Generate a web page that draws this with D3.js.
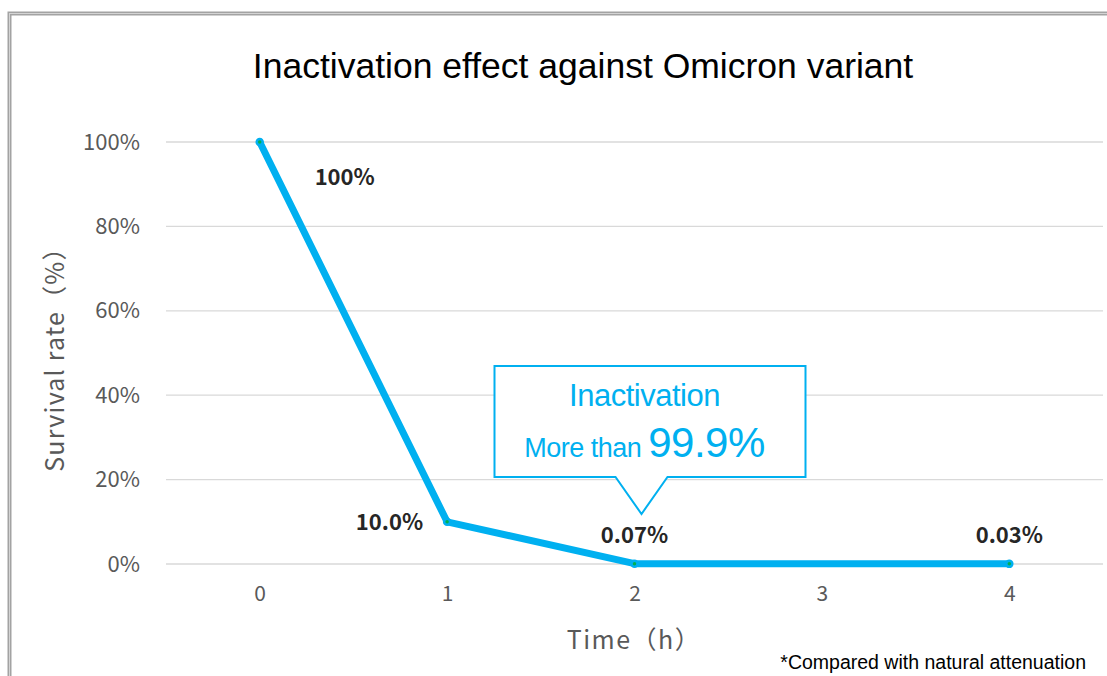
<!DOCTYPE html>
<html>
<head>
<meta charset="utf-8">
<script src="https://cdn.jsdelivr.net/npm/d3@7"></script>
<style>
    body { margin: 0; background: #fff; }
    svg { display: block; }
</style>
</head>
<body>
<div id="chart"></div>
<script>
// chart values
const times = ['0', '1', '2', '3', '4'];
const survival = [100, 10.0, 0.07, null, 0.03];
const pointLabels = ['100%', '10.0%', '0.07%', null, '0.03%'];
const yTicks = [0, 20, 40, 60, 80, 100];
const titleText = 'Inactivation effect against Omicron variant';
const calloutLines = ['Inactivation', 'More than ', '99.9%'];
const footnote = '*Compared with natural attenuation';

let width = 1107,
    height = 676,
    blue = '#00b0f0',
    green = '#00b050',
    grey = '#595959',
    jp = "'Noto Sans CJK JP', 'Noto Sans', sans-serif",
    arial = "'Liberation Sans', Arial, sans-serif";

let svg = d3.select('#chart')
    .append('svg')
    .attr('width', width)
    .attr('height', height);

svg.append('rect')
    .attr('width', width)
    .attr('height', height)
    .attr('fill', '#fff');

// outer frame
svg.append('rect')
    .attr('x', 9.5)
    .attr('y', 13.5)
    .attr('width', width + 20)
    .attr('height', height + 20)
    .attr('fill', 'none')
    .attr('stroke', '#a3a3a3')
    .attr('stroke-width', 4);
svg.append('rect')
    .attr('x', 9.5)
    .attr('y', 13.5)
    .attr('width', width + 20)
    .attr('height', height + 20)
    .attr('fill', 'none')
    .attr('stroke', '#d4d4d4')
    .attr('stroke-width', 1);

// scales
let scaleX = d3.scalePoint()
    .domain(times)
    .range([166, 1103])
    .padding(0.5);

let scaleY = d3.scaleLinear()
    .domain([0, 100])
    .range([564, 142]);

// gridlines
svg.append('g')
    .selectAll('line')
    .data(yTicks)
    .enter()
    .append('line')
    .attr('x1', 166)
    .attr('x2', 1103)
    .attr('y1', d => scaleY(d))
    .attr('y2', d => scaleY(d))
    .attr('stroke', '#d9d9d9')
    .attr('stroke-width', 1.3);

// y axis
let yAxis = d3.axisLeft(scaleY)
    .tickValues(yTicks)
    .tickSize(0)
    .tickPadding(26)
    .tickFormat(d => d + '%');

svg.append('g')
    .attr('transform', 'translate(166,0)')
    .call(yAxis)
    .call(g => {
        g.select('.domain').remove();
        g.selectAll('text')
            .attr('fill', grey)
            .style('font-family', jp)
            .style('font-size', '22px');
    });

// x axis
let xAxis = d3.axisBottom(scaleX)
    .tickSize(0)
    .tickPadding(22);

svg.append('g')
    .attr('transform', 'translate(0,564)')
    .call(xAxis)
    .call(g => {
        g.select('.domain').remove();
        g.selectAll('text')
            .attr('fill', grey)
            .style('font-family', jp)
            .style('font-size', '21px');
    });

// axis titles
svg.append('text')
    .attr('x', 634)
    .attr('y', 649)
    .attr('text-anchor', 'middle')
    .attr('fill', grey)
    .style('font-family', jp)
    .style('font-size', '25px')
    .style('letter-spacing', '1.5px')
    .text('Time（h）');

svg.append('text')
    .attr('transform', 'translate(64,353) rotate(-90)')
    .attr('text-anchor', 'middle')
    .attr('fill', grey)
    .style('font-family', jp)
    .style('font-size', '25px')
    .style('letter-spacing', '1.2px')
    .text('Survival rate（%）');

// title
svg.append('text')
    .attr('x', 583)
    .attr('y', 78)
    .attr('text-anchor', 'middle')
    .attr('fill', '#000')
    .style('font-family', arial)
    .style('font-size', '35.5px')
    .text(titleText);

// series
let points = times.map((t, k) => ({ t: t, v: survival[k], label: pointLabels[k] }))
    .filter(d => d.v !== null);

let line = d3.line()
    .x(d => scaleX(d.t))
    .y(d => scaleY(d.v));

svg.append('path')
    .datum(points)
    .attr('d', line)
    .attr('fill', 'none')
    .attr('stroke', blue)
    .attr('stroke-width', 7)
    .attr('stroke-linejoin', 'round')
    .attr('stroke-linecap', 'round');

svg.append('g')
    .selectAll('circle')
    .data(points)
    .enter()
    .append('circle')
    .attr('cx', d => scaleX(d.t))
    .attr('cy', d => scaleY(d.v))
    .attr('r', 3)
    .attr('fill', green)
    .attr('stroke', blue)
    .attr('stroke-width', 2.5);

// data labels: offset from each point, text anchor
let labelPlace = {
    '0': { dx: 85, dy: 43, anchor: 'middle' },
    '1': { dx: -24, dy: 8, anchor: 'end' },
    '2': { dx: 0, dy: -21, anchor: 'middle' },
    '4': { dx: 0, dy: -21, anchor: 'middle' }
};

svg.append('g')
    .selectAll('text')
    .data(points)
    .enter()
    .append('text')
    .attr('x', d => scaleX(d.t) + labelPlace[d.t].dx)
    .attr('y', d => scaleY(d.v) + labelPlace[d.t].dy)
    .attr('text-anchor', d => labelPlace[d.t].anchor)
    .attr('fill', '#262626')
    .style('font-family', jp)
    .style('font-size', '22px')
    .style('font-weight', 'bold')
    .text(d => d.label);

// callout pointing at the 2h point
let cx = scaleX('2'),
    cy = scaleY(0),
    boxLeft = cx - 140,
    boxRight = cx + 171,
    boxTop = cy - 198,
    boxBottom = cy - 87;

let callout = svg.append('g').attr('class', 'callout');
callout.append('path')
    .attr('d', 'M' + boxLeft + ',' + boxTop +
        'H' + boxRight + 'V' + boxBottom +
        'H' + (cx + 33) + 'L' + (cx + 7) + ',' + (cy - 50) +
        'L' + (cx - 19) + ',' + boxBottom +
        'H' + boxLeft + 'Z')
    .attr('fill', '#fff')
    .attr('stroke', blue)
    .attr('stroke-width', 2);

callout.append('text')
    .attr('x', cx + 10)
    .attr('y', boxTop + 40)
    .attr('text-anchor', 'middle')
    .attr('fill', blue)
    .style('font-family', arial)
    .style('font-size', '31px')
    .style('letter-spacing', '-0.5px')
    .text(calloutLines[0]);

let second = callout.append('text')
    .attr('x', cx + 10)
    .attr('y', boxTop + 91)
    .attr('text-anchor', 'middle')
    .attr('fill', blue)
    .style('font-family', arial)
    .style('letter-spacing', '-0.5px');
second.append('tspan')
    .style('font-size', '27px')
    .text(calloutLines[1]);
second.append('tspan')
    .style('font-size', '42px')
    .text(calloutLines[2]);

// footnote
svg.append('text')
    .attr('x', 1086)
    .attr('y', 669)
    .attr('text-anchor', 'end')
    .attr('fill', '#000')
    .style('font-family', arial)
    .style('font-size', '19.5px')
    .text(footnote);
</script>
</body>
</html>
